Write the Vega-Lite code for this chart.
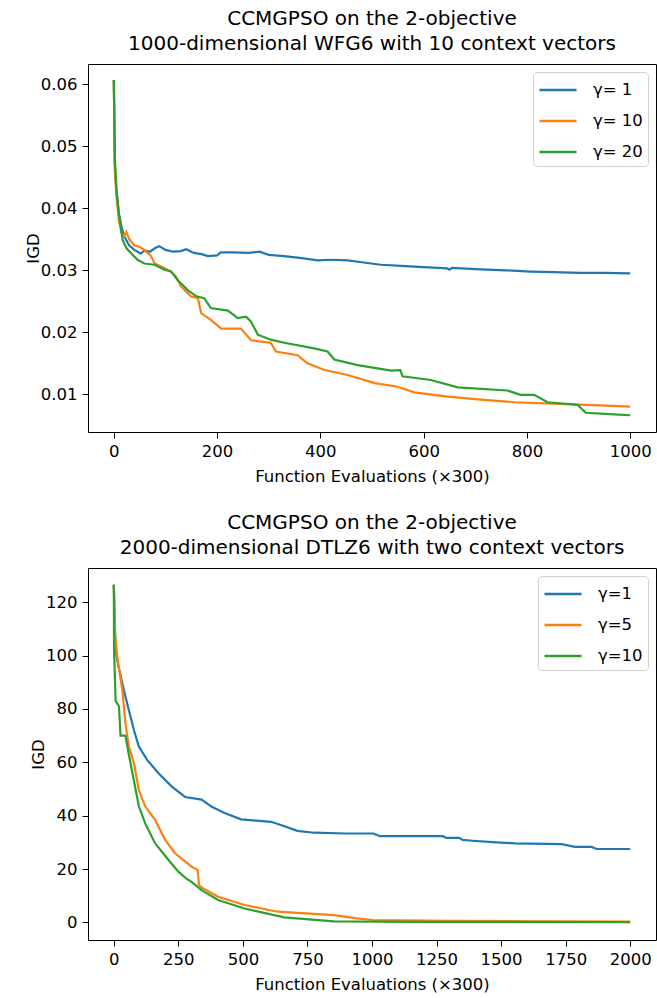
{
  "$schema": "https://vega.github.io/schema/vega-lite/v6.json",
  "padding": {"left": 24, "top": 8, "right": 0, "bottom": 0},
  "background": "white",
  "config": {
    "font": "DejaVu Sans",
    "view": {"stroke": "#000", "strokeWidth": 1},
    "axis": {
      "grid": false, "domain": false,
      "labelFont": "DejaVu Sans", "labelFontSize": 16.5, "labelColor": "#000",
      "titleFont": "DejaVu Sans", "titleFontSize": 16.5, "titleFontWeight": "normal", "titleColor": "#000",
      "tickColor": "#000", "tickSize": 6, "labelPadding": 5
    },
    "axisX": {"titlePadding": 9},
    "axisY": {"titlePadding": -1},
    "title": {"font": "DejaVu Sans", "fontSize": 20, "fontWeight": "normal", "color": "#000", "lineHeight": 25, "offset": 10, "anchor": "middle"},
    "legend": {
      "orient": "top-right", "offset": 8, "fillColor": "white", "strokeColor": "#d0d0d0", "cornerRadius": 4,
      "padding": 5, "symbolType": "M-1,0H2.22", "symbolSize": 529, "symbolStrokeWidth": 2.5,
      "labelFont": "DejaVu Sans", "labelFontSize": 16.5, "labelColor": "#000", "labelOffset": 29, "rowPadding": 9, "title": null
    }
  },
  "datasets": {
    "wfg6": [
      {"x": 0, "y": 0.0607, "s": "γ= 1"}, {"x": 2, "y": 0.047, "s": "γ= 1"}, {"x": 5, "y": 0.043, "s": "γ= 1"}, {"x": 10, "y": 0.039, "s": "γ= 1"}, {"x": 15, "y": 0.037, "s": "γ= 1"}, {"x": 20, "y": 0.0355, "s": "γ= 1"}, {"x": 30, "y": 0.034, "s": "γ= 1"}, {"x": 40, "y": 0.0333, "s": "γ= 1"}, {"x": 52, "y": 0.0327, "s": "γ= 1"}, {"x": 60, "y": 0.0332, "s": "γ= 1"}, {"x": 70, "y": 0.033, "s": "γ= 1"}, {"x": 80, "y": 0.0336, "s": "γ= 1"}, {"x": 88, "y": 0.0339, "s": "γ= 1"}, {"x": 100, "y": 0.0333, "s": "γ= 1"}, {"x": 115, "y": 0.033, "s": "γ= 1"}, {"x": 130, "y": 0.0331, "s": "γ= 1"}, {"x": 140, "y": 0.0334, "s": "γ= 1"}, {"x": 155, "y": 0.0328, "s": "γ= 1"}, {"x": 170, "y": 0.0326, "s": "γ= 1"}, {"x": 182, "y": 0.0323, "s": "γ= 1"}, {"x": 200, "y": 0.0324, "s": "γ= 1"}, {"x": 207, "y": 0.0329, "s": "γ= 1"}, {"x": 230, "y": 0.0329, "s": "γ= 1"}, {"x": 260, "y": 0.0328, "s": "γ= 1"}, {"x": 282, "y": 0.033, "s": "γ= 1"}, {"x": 300, "y": 0.0325, "s": "γ= 1"}, {"x": 330, "y": 0.0323, "s": "γ= 1"}, {"x": 360, "y": 0.032, "s": "γ= 1"}, {"x": 395, "y": 0.0316, "s": "γ= 1"}, {"x": 420, "y": 0.0317, "s": "γ= 1"}, {"x": 453, "y": 0.0316, "s": "γ= 1"}, {"x": 480, "y": 0.0313, "s": "γ= 1"}, {"x": 517, "y": 0.0309, "s": "γ= 1"}, {"x": 556, "y": 0.0307, "s": "γ= 1"}, {"x": 600, "y": 0.0305, "s": "γ= 1"}, {"x": 646, "y": 0.0303, "s": "γ= 1"}, {"x": 650, "y": 0.0301, "s": "γ= 1"}, {"x": 655, "y": 0.0304, "s": "γ= 1"}, {"x": 700, "y": 0.0302, "s": "γ= 1"}, {"x": 760, "y": 0.03, "s": "γ= 1"}, {"x": 808, "y": 0.0298, "s": "γ= 1"}, {"x": 850, "y": 0.0297, "s": "γ= 1"}, {"x": 904, "y": 0.0296, "s": "γ= 1"}, {"x": 950, "y": 0.0296, "s": "γ= 1"}, {"x": 1000, "y": 0.0295, "s": "γ= 1"},
      {"x": 0, "y": 0.0607, "s": "γ= 10"}, {"x": 2, "y": 0.046, "s": "γ= 10"}, {"x": 5, "y": 0.042, "s": "γ= 10"}, {"x": 10, "y": 0.038, "s": "γ= 10"}, {"x": 15, "y": 0.036, "s": "γ= 10"}, {"x": 20, "y": 0.0355, "s": "γ= 10"}, {"x": 24, "y": 0.0362, "s": "γ= 10"}, {"x": 30, "y": 0.035, "s": "γ= 10"}, {"x": 40, "y": 0.034, "s": "γ= 10"}, {"x": 50, "y": 0.0338, "s": "γ= 10"}, {"x": 60, "y": 0.0332, "s": "γ= 10"}, {"x": 72, "y": 0.0323, "s": "γ= 10"}, {"x": 79, "y": 0.0311, "s": "γ= 10"}, {"x": 95, "y": 0.0305, "s": "γ= 10"}, {"x": 110, "y": 0.0298, "s": "γ= 10"}, {"x": 120, "y": 0.029, "s": "γ= 10"}, {"x": 130, "y": 0.0274, "s": "γ= 10"}, {"x": 149, "y": 0.0258, "s": "γ= 10"}, {"x": 163, "y": 0.0255, "s": "γ= 10"}, {"x": 169, "y": 0.0231, "s": "γ= 10"}, {"x": 188, "y": 0.022, "s": "γ= 10"}, {"x": 208, "y": 0.0206, "s": "γ= 10"}, {"x": 246, "y": 0.0206, "s": "γ= 10"}, {"x": 266, "y": 0.0187, "s": "γ= 10"}, {"x": 304, "y": 0.0183, "s": "γ= 10"}, {"x": 314, "y": 0.0169, "s": "γ= 10"}, {"x": 356, "y": 0.0163, "s": "γ= 10"}, {"x": 375, "y": 0.015, "s": "γ= 10"}, {"x": 408, "y": 0.0139, "s": "γ= 10"}, {"x": 453, "y": 0.0131, "s": "γ= 10"}, {"x": 505, "y": 0.0118, "s": "γ= 10"}, {"x": 550, "y": 0.0112, "s": "γ= 10"}, {"x": 582, "y": 0.0103, "s": "γ= 10"}, {"x": 646, "y": 0.0096, "s": "γ= 10"}, {"x": 717, "y": 0.0091, "s": "γ= 10"}, {"x": 775, "y": 0.0087, "s": "γ= 10"}, {"x": 872, "y": 0.0084, "s": "γ= 10"}, {"x": 943, "y": 0.0082, "s": "γ= 10"}, {"x": 1000, "y": 0.008, "s": "γ= 10"},
      {"x": 0, "y": 0.0607, "s": "γ= 20"}, {"x": 2, "y": 0.048, "s": "γ= 20"}, {"x": 5, "y": 0.043, "s": "γ= 20"}, {"x": 10, "y": 0.039, "s": "γ= 20"}, {"x": 17, "y": 0.0349, "s": "γ= 20"}, {"x": 25, "y": 0.0335, "s": "γ= 20"}, {"x": 34, "y": 0.0327, "s": "γ= 20"}, {"x": 46, "y": 0.0317, "s": "γ= 20"}, {"x": 59, "y": 0.0311, "s": "γ= 20"}, {"x": 79, "y": 0.0309, "s": "γ= 20"}, {"x": 98, "y": 0.0301, "s": "γ= 20"}, {"x": 111, "y": 0.0298, "s": "γ= 20"}, {"x": 124, "y": 0.0284, "s": "γ= 20"}, {"x": 143, "y": 0.0268, "s": "γ= 20"}, {"x": 160, "y": 0.0258, "s": "γ= 20"}, {"x": 175, "y": 0.0255, "s": "γ= 20"}, {"x": 188, "y": 0.0239, "s": "γ= 20"}, {"x": 221, "y": 0.0235, "s": "γ= 20"}, {"x": 240, "y": 0.0223, "s": "γ= 20"}, {"x": 256, "y": 0.0225, "s": "γ= 20"}, {"x": 265, "y": 0.0218, "s": "γ= 20"}, {"x": 279, "y": 0.0196, "s": "γ= 20"}, {"x": 304, "y": 0.0188, "s": "γ= 20"}, {"x": 330, "y": 0.0183, "s": "γ= 20"}, {"x": 388, "y": 0.0174, "s": "γ= 20"}, {"x": 414, "y": 0.0169, "s": "γ= 20"}, {"x": 427, "y": 0.0156, "s": "γ= 20"}, {"x": 472, "y": 0.0147, "s": "γ= 20"}, {"x": 537, "y": 0.0138, "s": "γ= 20"}, {"x": 555, "y": 0.0139, "s": "γ= 20"}, {"x": 559, "y": 0.0129, "s": "γ= 20"}, {"x": 614, "y": 0.0123, "s": "γ= 20"}, {"x": 666, "y": 0.0111, "s": "γ= 20"}, {"x": 762, "y": 0.0106, "s": "γ= 20"}, {"x": 788, "y": 0.0099, "s": "γ= 20"}, {"x": 814, "y": 0.0099, "s": "γ= 20"}, {"x": 840, "y": 0.0087, "s": "γ= 20"}, {"x": 898, "y": 0.0083, "s": "γ= 20"}, {"x": 914, "y": 0.007, "s": "γ= 20"}, {"x": 960, "y": 0.0068, "s": "γ= 20"}, {"x": 1000, "y": 0.0066, "s": "γ= 20"}
    ],
    "dtlz6": [
      {"x": 0, "y": 126.5, "s": "γ=1"}, {"x": 5, "y": 108, "s": "γ=1"}, {"x": 10, "y": 100, "s": "γ=1"}, {"x": 17, "y": 96.4, "s": "γ=1"}, {"x": 39, "y": 87, "s": "γ=1"}, {"x": 58, "y": 79.6, "s": "γ=1"}, {"x": 78, "y": 72, "s": "γ=1"}, {"x": 97, "y": 65.9, "s": "γ=1"}, {"x": 129, "y": 60.9, "s": "γ=1"}, {"x": 173, "y": 55.9, "s": "γ=1"}, {"x": 225, "y": 50.9, "s": "γ=1"}, {"x": 276, "y": 47, "s": "γ=1"}, {"x": 340, "y": 46, "s": "γ=1"}, {"x": 378, "y": 43.4, "s": "γ=1"}, {"x": 429, "y": 41, "s": "γ=1"}, {"x": 493, "y": 38.6, "s": "γ=1"}, {"x": 609, "y": 37.7, "s": "γ=1"}, {"x": 647, "y": 36.5, "s": "γ=1"}, {"x": 711, "y": 34.3, "s": "γ=1"}, {"x": 775, "y": 33.6, "s": "γ=1"}, {"x": 900, "y": 33.3, "s": "γ=1"}, {"x": 1005, "y": 33.3, "s": "γ=1"}, {"x": 1031, "y": 32.3, "s": "γ=1"}, {"x": 1274, "y": 32.3, "s": "γ=1"}, {"x": 1287, "y": 31.7, "s": "γ=1"}, {"x": 1338, "y": 31.7, "s": "γ=1"}, {"x": 1351, "y": 30.9, "s": "γ=1"}, {"x": 1389, "y": 30.6, "s": "γ=1"}, {"x": 1466, "y": 30.1, "s": "γ=1"}, {"x": 1556, "y": 29.6, "s": "γ=1"}, {"x": 1735, "y": 29.3, "s": "γ=1"}, {"x": 1786, "y": 28.3, "s": "γ=1"}, {"x": 1850, "y": 28.3, "s": "γ=1"}, {"x": 1870, "y": 27.5, "s": "γ=1"}, {"x": 2000, "y": 27.5, "s": "γ=1"},
      {"x": 0, "y": 126.5, "s": "γ=5"}, {"x": 5, "y": 108, "s": "γ=5"}, {"x": 13, "y": 99.6, "s": "γ=5"}, {"x": 33, "y": 87, "s": "γ=5"}, {"x": 45, "y": 74.6, "s": "γ=5"}, {"x": 58, "y": 66, "s": "γ=5"}, {"x": 78, "y": 59.6, "s": "γ=5"}, {"x": 97, "y": 49.6, "s": "γ=5"}, {"x": 122, "y": 43.4, "s": "γ=5"}, {"x": 160, "y": 38.4, "s": "γ=5"}, {"x": 199, "y": 30.9, "s": "γ=5"}, {"x": 237, "y": 25.9, "s": "γ=5"}, {"x": 301, "y": 20.9, "s": "γ=5"}, {"x": 325, "y": 19.6, "s": "γ=5"}, {"x": 330, "y": 14, "s": "γ=5"}, {"x": 340, "y": 13.1, "s": "γ=5"}, {"x": 404, "y": 9.6, "s": "γ=5"}, {"x": 506, "y": 6.5, "s": "γ=5"}, {"x": 634, "y": 4, "s": "γ=5"}, {"x": 852, "y": 2.7, "s": "γ=5"}, {"x": 941, "y": 1.5, "s": "γ=5"}, {"x": 1005, "y": 0.9, "s": "γ=5"}, {"x": 1300, "y": 0.6, "s": "γ=5"}, {"x": 1600, "y": 0.4, "s": "γ=5"}, {"x": 2000, "y": 0.3, "s": "γ=5"},
      {"x": 0, "y": 126.5, "s": "γ=10"}, {"x": 1, "y": 102, "s": "γ=10"}, {"x": 7, "y": 83, "s": "γ=10"}, {"x": 20, "y": 81, "s": "γ=10"}, {"x": 26, "y": 70, "s": "γ=10"}, {"x": 45, "y": 70, "s": "γ=10"}, {"x": 58, "y": 63, "s": "γ=10"}, {"x": 78, "y": 53, "s": "γ=10"}, {"x": 97, "y": 43.5, "s": "γ=10"}, {"x": 122, "y": 37, "s": "γ=10"}, {"x": 160, "y": 29.6, "s": "γ=10"}, {"x": 212, "y": 23.4, "s": "γ=10"}, {"x": 250, "y": 19, "s": "γ=10"}, {"x": 280, "y": 16.5, "s": "γ=10"}, {"x": 301, "y": 15.2, "s": "γ=10"}, {"x": 340, "y": 12.1, "s": "γ=10"}, {"x": 404, "y": 8.4, "s": "γ=10"}, {"x": 506, "y": 5.2, "s": "γ=10"}, {"x": 660, "y": 1.9, "s": "γ=10"}, {"x": 852, "y": 0.4, "s": "γ=10"}, {"x": 1200, "y": 0.2, "s": "γ=10"}, {"x": 2000, "y": 0.1, "s": "γ=10"}
    ]
  },
  "vconcat": [
    {
      "width": 568, "height": 368,
      "title": {"text": ["CCMGPSO on the 2-objective", "1000-dimensional WFG6 with 10 context vectors"]},
      "data": {"name": "wfg6"},
      "mark": {"type": "line", "strokeWidth": 2.2, "clip": true},
      "encoding": {
        "x": {"field": "x", "type": "quantitative", "title": "Function Evaluations (×300)",
              "scale": {"domain": [-50, 1050], "nice": false, "zero": false},
              "axis": {"values": [0, 200, 400, 600, 800, 1000], "format": "d"}},
        "y": {"field": "y", "type": "quantitative", "title": "IGD",
              "scale": {"domain": [0.0039, 0.0633], "nice": false, "zero": false},
              "axis": {"values": [0.01, 0.02, 0.03, 0.04, 0.05, 0.06], "format": ".2f"}},
        "color": {"field": "s", "type": "nominal",
                  "scale": {"domain": ["γ= 1", "γ= 10", "γ= 20"], "range": ["#1f77b4", "#ff7f0e", "#2ca02c"]},
                  "legend": {"title": null}},
        "order": {"field": "x", "type": "quantitative"}
      }
    },
    {
      "width": 568, "height": 372,
      "title": {"text": ["CCMGPSO on the 2-objective", "2000-dimensional DTLZ6 with two context vectors"]},
      "data": {"name": "dtlz6"},
      "mark": {"type": "line", "strokeWidth": 2.2, "clip": true},
      "encoding": {
        "x": {"field": "x", "type": "quantitative", "title": "Function Evaluations (×300)",
              "scale": {"domain": [-100, 2100], "nice": false, "zero": false},
              "axis": {"values": [0, 250, 500, 750, 1000, 1250, 1500, 1750, 2000], "format": "d"}},
        "y": {"field": "y", "type": "quantitative", "title": "IGD",
              "scale": {"domain": [-6.6, 132.8], "nice": false, "zero": false},
              "axis": {"values": [0, 20, 40, 60, 80, 100, 120]}},
        "color": {"field": "s", "type": "nominal",
                  "scale": {"domain": ["γ=1", "γ=5", "γ=10"], "range": ["#1f77b4", "#ff7f0e", "#2ca02c"]},
                  "legend": {"title": null}},
        "order": {"field": "x", "type": "quantitative"}
      }
    }
  ],
  "bounds": "flush",
  "spacing": 136,
  "resolve": {"scale": {"color": "independent"}, "legend": {"color": "independent"}}
}
